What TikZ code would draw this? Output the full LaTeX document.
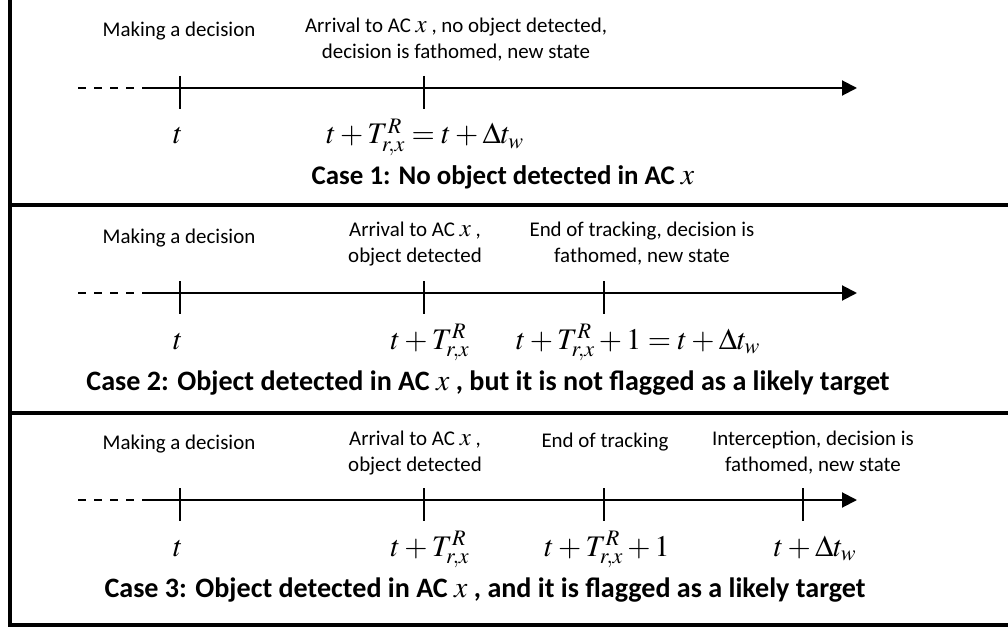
\documentclass[tikz,border=0pt]{standalone}
\usepackage{mathptmx}
\usepackage[no-math]{fontspec}
\setmainfont{Carlito}
\usetikzlibrary{arrows.meta}
\newcommand\xlab{{\fontsize{25}{25}\selectfont$x$}}
\newcommand\xcap{{\fontsize{30}{30}\selectfont$x$}}
\begin{document}
\begin{tikzpicture}[x=1bp,y=-1bp,
  every node/.style={inner sep=0pt,outer sep=0pt},
  lbl/.style={font=\fontsize{21}{25.7}\selectfont,align=center,anchor=north},
  lblone/.style={font=\fontsize{21}{25.7}\selectfont,anchor=base},
  capt/.style={font=\fontsize{27}{31}\selectfont\bfseries,anchor=base},
  captw/.style={font=\fontsize{28.2}{31}\selectfont\bfseries,anchor=base},
  mth/.style={font=\fontsize{30}{34}\selectfont,anchor=base},
  axisline/.style={line width=2bp,-{Triangle[length=15bp,width=15bp]}},
  dashline/.style={line width=2.2bp,dash pattern=on 8bp off 8bp},
  tickline/.style={line width=2bp},
  frameline/.style={line width=4bp}]
\useasboundingbox (0,0) rectangle (1008,632);
% frame
\coordinate (ftl) at (9.5,-2);
\coordinate (fbl) at (9.5,625);
\coordinate (fbr) at (1010,625);
\coordinate (s1l) at (9.5,205);
\coordinate (s1r) at (1010,205);
\coordinate (s2l) at (9.5,413);
\coordinate (s2r) at (1010,413);
\draw[frameline] (ftl) -- (fbl) -- (fbr);
\draw[frameline] (s1l) -- (s1r);
\draw[frameline] (s2l) -- (s2r);

% ---------- Case 1 ----------
\coordinate (d1) at (78,88);
\coordinate (j1) at (150,88);
\coordinate (e1) at (857,88);
\draw[dashline] (d1) -- (j1);
\draw[axisline] (j1) -- (e1);
\coordinate (t1a) at (180,76); \coordinate (b1a) at (180,109);
\coordinate (t1b) at (424,76); \coordinate (b1b) at (424,109);
\draw[tickline] (t1a) -- (b1a);
\draw[tickline] (t1b) -- (b1b);
\node[lblone] (m1) at (179,37) {Making a decision};
\node[lbl] (a1) at (456,18) {Arrival to AC \xlab\ , no object detected,\\decision is fathomed, new state};
\node[mth] (p1) at (178,144) {$t$};
\node[mth] (q1) at (425,144) {$t+T_{r,x}^{R}=t+\Delta t_{w}$};
\node[capt] (c1) at (503,185) {Case 1: No object detected in AC \xcap};

% ---------- Case 2 ----------
\coordinate (d2) at (78,293);
\coordinate (j2) at (150,293);
\coordinate (e2) at (857,293);
\draw[dashline] (d2) -- (j2);
\draw[axisline] (j2) -- (e2);
\coordinate (t2a) at (180,281); \coordinate (b2a) at (180,314);
\coordinate (t2b) at (424,281); \coordinate (b2b) at (424,314);
\coordinate (t2c) at (604,281); \coordinate (b2c) at (604,314);
\draw[tickline] (t2a) -- (b2a);
\draw[tickline] (t2b) -- (b2b);
\draw[tickline] (t2c) -- (b2c);
\node[lblone] (m2) at (179,244) {Making a decision};
\node[lbl] (a2) at (415,222) {Arrival to AC \xlab\ ,\\object detected};
\node[lbl] (n2) at (642,222) {End of tracking, decision is\\fathomed, new state};
\node[mth] (p2) at (178,349) {$t$};
\node[mth] (q2) at (430,349) {$t+T_{r,x}^{R}$};
\node[mth] (r2) at (638,349) {$t+T_{r,x}^{R}+1=t+\Delta t_{w}$};
\node[captw] (c2) at (488,390) {Case 2: Object detected in AC \xcap\ , but it is not flagged as a likely target};

% ---------- Case 3 ----------
\coordinate (d3) at (78,500);
\coordinate (j3) at (150,500);
\coordinate (e3) at (857,500);
\draw[dashline] (d3) -- (j3);
\draw[axisline] (j3) -- (e3);
\coordinate (t3a) at (180,488); \coordinate (b3a) at (180,521);
\coordinate (t3b) at (424,488); \coordinate (b3b) at (424,521);
\coordinate (t3c) at (604,488); \coordinate (b3c) at (604,521);
\coordinate (t3d) at (803,488); \coordinate (b3d) at (803,521);
\draw[tickline] (t3a) -- (b3a);
\draw[tickline] (t3b) -- (b3b);
\draw[tickline] (t3c) -- (b3c);
\draw[tickline] (t3d) -- (b3d);
\node[lblone] (m3) at (179,449) {Making a decision};
\node[lbl] (a3) at (415,431) {Arrival to AC \xlab\ ,\\object detected};
\node[lblone] (n3) at (605,447) {End of tracking};
\node[lbl] (i3) at (813,431) {Interception, decision is\\fathomed, new state};
\node[mth] (p3) at (178,556) {$t$};
\node[mth] (q3) at (430,556) {$t+T_{r,x}^{R}$};
\node[mth] (r3) at (607,556) {$t+T_{r,x}^{R}+1$};
\node[mth] (w3) at (815,556) {$t+\Delta t_{w}$};
\node[captw] (c3) at (485,597) {Case 3: Object detected in AC \xcap\ , and it is flagged as a likely target};
\end{tikzpicture}
\end{document}
